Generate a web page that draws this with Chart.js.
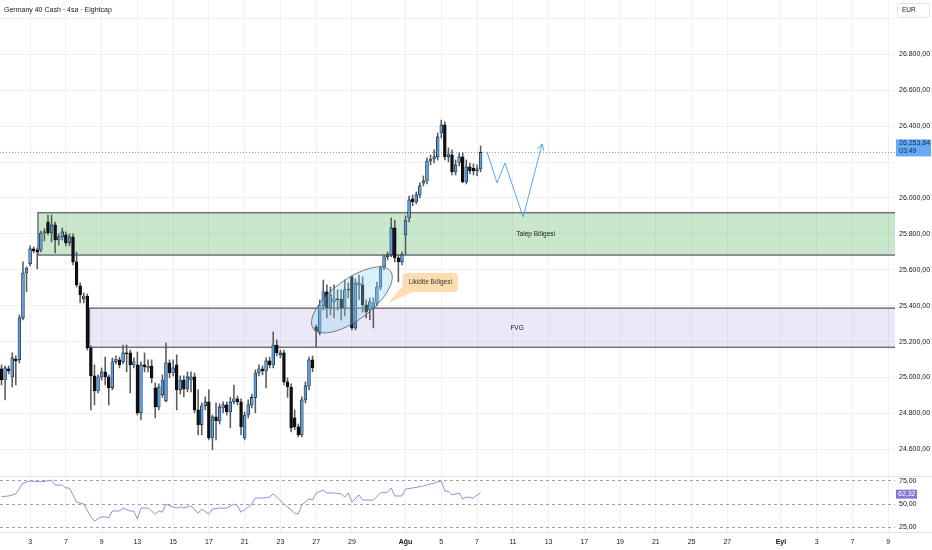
<!DOCTYPE html>
<html>
<head>
<meta charset="utf-8">
<script src="https://cdn.jsdelivr.net/npm/chart.js@4.4.1/dist/chart.umd.min.js"></script>
<style>
  html, body { margin: 0; padding: 0; background: #fff; }
  canvas { display: block; }
</style>
</head>
<body>
<canvas id="chart" width="932" height="550"></canvas>
<script>
// 4 saatlik mumlar (fiyatlar)
const openP = [25048,24986,25048,25003,25103,25098,25332,25582,25633,25716,25710,25710,25805,25866,25805,25850,25766,25783,25794,25750,
  25783,25644,25510,25438,25454,25165,25009,24925,25003,25031,25003,24942,25087,25098,25087,25137,25137,25070,25070,24803,
  25070,25053,25064,24942,24836,24903,24870,25081,25025,25070,24931,24986,24936,24986,25003,24819,24736,24842,24864,24663,
  24780,24758,24830,24847,24808,24864,24881,24864,24663,24791,24847,24889,25025,25048,25036,25092,25070,25181,25126,25137,
  24975,24947,24775,24725,24680,24875,24953,25098,25282,25254,25399,25477,25387,25421,25438,25438,25387,25493,25560,25276,
  25516,25516,25404,25376,25387,25415,25504,25616,25672,25683,25833,25666,25644,25794,25889,25995,25978,26017,26084,26095,
  26206,26217,26229,26362,26407,26229,26240,26145,26195,26229,26089,26173,26167,26151,26162];
const highP = [25070,25064,25064,25137,25120,25348,25644,25616,25733,25727,25722,25816,25828,25905,25905,25866,25800,25833,25811,25800,
  25800,25699,25527,25471,25465,25176,25070,25014,25053,25114,25014,25109,25120,25114,25181,25181,25153,25109,25142,25087,
  25137,25098,25098,24970,24964,25014,25192,25098,25098,25126,25009,25009,25031,25031,25025,24931,24858,24892,24931,24791,
  24858,24853,24864,24864,24889,24958,24897,24881,24808,24875,24908,25042,25070,25064,25109,25114,25254,25209,25153,25153,
  24998,24964,24819,24741,24892,24975,25114,25120,25293,25432,25543,25516,25504,25516,25488,25488,25543,25527,25566,25549,
  25571,25560,25432,25443,25443,25532,25621,25683,25699,25889,25877,25683,25699,25900,26011,26017,26034,26084,26123,26223,
  26240,26268,26362,26434,26424,26279,26268,26212,26251,26251,26212,26195,26190,26184,26290];
const lowP = [24958,24875,25020,24947,24958,25081,25321,25477,25621,25694,25605,25699,25761,25794,25755,25694,25738,25766,25733,25733,
  25627,25504,25415,25415,25153,24819,24847,24914,24986,24958,24847,24931,25076,25053,25076,25031,24914,25053,24791,24764,
  25031,25031,24970,24775,24819,24889,24864,24998,25009,24819,24908,24892,24920,24920,24803,24680,24680,24819,24652,24597,
  24652,24741,24803,24791,24719,24853,24847,24680,24652,24775,24830,24803,25009,25014,24942,25053,25053,25120,25109,24958,
  24889,24697,24708,24669,24669,24858,24931,25031,25170,25237,25376,25332,25348,25332,25376,25321,25343,25443,25265,25265,
  25432,25365,25332,25321,25276,25399,25488,25599,25655,25672,25644,25532,25627,25683,25866,25956,25967,26000,26067,26078,
  26184,26195,26212,26334,26212,26201,26128,26128,26178,26084,26078,26134,26128,26123,26145];
const closeP = [24986,25053,25036,25109,25092,25332,25582,25610,25716,25705,25699,25805,25811,25805,25850,25766,25783,25811,25750,25783,
  25644,25516,25460,25454,25165,25009,24925,25003,25031,25003,24942,25087,25103,25070,25137,25131,25070,25087,24803,25070,
  25059,25064,24998,24836,24947,24986,25081,25025,25053,24931,24986,24936,25003,25003,24819,24736,24842,24864,24663,24780,
  24758,24836,24847,24808,24864,24881,24864,24725,24791,24847,24889,25025,25048,25036,25092,25070,25181,25137,25137,24975,
  24947,24719,24725,24680,24875,24953,25098,25053,25259,25399,25477,25387,25460,25438,25432,25387,25488,25488,25276,25527,
  25527,25404,25365,25421,25415,25504,25610,25672,25683,25833,25666,25644,25683,25877,25989,25978,26017,26067,26095,26206,
  26217,26229,26340,26407,26229,26245,26145,26184,26229,26089,26173,26151,26151,26162,26253.84];

// RSI (14)
const rsiIdx = [0,2,4,6,8,11,14,15,17,18,19,21,23,25,26,28,29,30,31,33,34,36,37,38,39,41,43,44,45,46,47,49,50,51,53,55,56,58,59,61,
  63,65,66,67,69,70,71,73,75,76,77,79,81,82,83,84,86,87,88,90,91,93,95,96,97,98,100,101,104,106,108,109,110,112,113,115,118,120,121,123,
  124,125,126,128,129,130,132,133,134];
const rsiVal = [58,58.7,60.9,72.8,75,74,76,70.6,70.6,67.4,67.4,52,50,36,31.5,36,36,35,42.4,42.4,45.6,42.4,42.4,33.7,45.6,45.6,39,42.4,41,50,
  48,45.6,46.7,45.6,48,40,44.6,39,44.6,45.6,45.6,50,48,41,46.7,50,56.5,56.5,57.6,60.9,57.6,50,43.5,40,39,49,55.4,54.3,62,65,
  62,62,60.9,57.6,62,52,59.8,54.3,54.3,62,63,67.4,58.7,58.7,66.3,67.4,69.6,71.7,72.8,75,64,64,59.8,62,55.4,57.6,56.5,59.8,62.32];

// zaman ekseni
const timeIdx = [8,18,28,38,48,58,68,78,88,98,113,123,133,143,153,163,173,183,193,203,218,228,238,248];
const timeLbl = ['3','7','9','13','15','17','21','23','27','29','Ağu','5','7','11','13','17','19','21','25','27','Eyl','3','7','9'];
const priceTicks = [24600,24800,25000,25200,25400,25600,25800,26000,26200,26400,26600,26800,27000];
const rsiTicks = [25,50,75];

// çizimler
const zoneNames = ['Talep Bölgesi', 'FVG'];
const zoneStart = [10.2, 24.6];
const zoneHigh = [25918, 25386];
const zoneLow = [25682, 25168];
const zoneTextAt = [149.4, 144.2];
const ellipseCenter = [98, 25432];
const ellipseEnd = [108.8, 25593];
const calloutText = 'Likidite Bölgesi';
const calloutAt = [119.9, 25529];
const calloutTip = [108.1, 25415];
const arrowIdx = [135.8, 138.6, 140.8, 145.9, 151.2];
const arrowPrice = [26256, 26084, 26195, 25894, 26301];

const lastClose = closeP[closeP.length - 1];
const lastRsi = rsiVal[rsiVal.length - 1];
const countdown = '03:49';

const FONT = "'Liberation Sans', Arial, sans-serif";
const BULL = '#5b9ce0';
const BEAR = '#111111';

function fmt(v) {
  const parts = v.toFixed(2).split('.');
  return parts[0].replace(/\B(?=(\d{3})+(?!\d))/g, '.') + ',' + parts[1];
}

// eksen kenar boşluklarını sıfırla (paneller tam yüksekliği kullansın)
function noPad(s) {
  s.paddingTop = 0;
  s.paddingBottom = 0;
}

const bodies = openP.map((o, i) => ({ x: i, y: [o, closeP[i]] }));
const wicks = highP.map((h, i) => ({ x: i, y: [lowP[i], h] }));
const bodyColors = openP.map((o, i) => closeP[i] >= o ? BULL : BEAR);

const overlay = {
  id: 'overlay',
  beforeDatasetsDraw(chart) {
    const { ctx, chartArea: a, scales: { x, y } } = chart;
    ctx.save();
    ctx.beginPath();
    ctx.rect(a.left, y.top, a.right - a.left, y.bottom - y.top);
    ctx.clip();
    const fills = ['rgba(76,175,80,0.3)', 'rgba(149,117,205,0.17)'];
    zoneNames.forEach((name, i) => {
      const l = x.getPixelForValue(zoneStart[i]);
      const t = y.getPixelForValue(zoneHigh[i]);
      const b = y.getPixelForValue(zoneLow[i]);
      ctx.fillStyle = fills[i];
      ctx.fillRect(l, t, a.right + 5 - l, b - t);
      ctx.strokeStyle = '#6f727c';
      ctx.lineWidth = 1.5;
      ctx.strokeRect(l, t, a.right + 5 - l, b - t);
      ctx.fillStyle = '#131722';
      ctx.font = '6.5px ' + FONT;
      ctx.textAlign = 'center';
      ctx.textBaseline = 'middle';
      ctx.fillText(name, x.getPixelForValue(zoneTextAt[i]), (t + b) / 2);
    });
    // son fiyat çizgisi
    const py = y.getPixelForValue(lastClose);
    ctx.strokeStyle = '#5aa5ef';
    ctx.lineWidth = 1;
    ctx.setLineDash([1, 2]);
    ctx.beginPath();
    ctx.moveTo(a.left, py);
    ctx.lineTo(a.right, py);
    ctx.stroke();
    ctx.restore();
  },
  afterDatasetsDraw(chart) {
    const { ctx, scales: { x, y } } = chart;
    ctx.save();
    // elips
    const cx = x.getPixelForValue(ellipseCenter[0]), cy = y.getPixelForValue(ellipseCenter[1]);
    const ex = x.getPixelForValue(ellipseEnd[0]), ey = y.getPixelForValue(ellipseEnd[1]);
    const ra = Math.hypot(ex - cx, ey - cy);
    ctx.beginPath();
    ctx.ellipse(cx, cy, ra, ra * 0.42, Math.atan2(ey - cy, ex - cx), 0, Math.PI * 2);
    ctx.fillStyle = 'rgba(140,210,240,0.32)';
    ctx.fill();
    ctx.strokeStyle = '#4f6170';
    ctx.lineWidth = 0.8;
    ctx.stroke();

    // etiket balonu
    ctx.font = '6.5px ' + FONT;
    const tw = ctx.measureText(calloutText).width;
    const bx = x.getPixelForValue(calloutAt[0]), by = y.getPixelForValue(calloutAt[1]);
    const w = tw + 12, h = 19;
    const l = bx - w / 2, t = by - h / 2;
    const tx = x.getPixelForValue(calloutTip[0]), ty = y.getPixelForValue(calloutTip[1]);
    ctx.fillStyle = '#fcdcb2';
    ctx.beginPath();
    ctx.roundRect(l, t, w, h, 4);
    ctx.fill();
    ctx.beginPath();
    ctx.moveTo(l + 2, t + h - 8);
    ctx.lineTo(tx, ty);
    ctx.lineTo(l + 10, t + h);
    ctx.closePath();
    ctx.fill();
    ctx.fillStyle = '#3e3427';
    ctx.textAlign = 'center';
    ctx.textBaseline = 'middle';
    ctx.fillText(calloutText, bx, by);

    // ok ucu
    const n = arrowIdx.length;
    const x1 = x.getPixelForValue(arrowIdx[n - 1]), y1 = y.getPixelForValue(arrowPrice[n - 1]);
    const x0 = x.getPixelForValue(arrowIdx[n - 2]), y0 = y.getPixelForValue(arrowPrice[n - 2]);
    const ang = Math.atan2(y1 - y0, x1 - x0);
    ctx.strokeStyle = '#5aa5ef';
    ctx.lineWidth = 1;
    ctx.beginPath();
    ctx.moveTo(x1 + 7 * Math.cos(ang + Math.PI - 0.5), y1 + 7 * Math.sin(ang + Math.PI - 0.5));
    ctx.lineTo(x1, y1);
    ctx.lineTo(x1 + 7 * Math.cos(ang + Math.PI + 0.5), y1 + 7 * Math.sin(ang + Math.PI + 0.5));
    ctx.stroke();
    ctx.restore();
  },
  afterDraw(chart) {
    const { ctx, width, chartArea: a, scales: { y, rsi } } = chart;
    ctx.save();
    // panel ayırıcı
    ctx.strokeStyle = '#e0e3eb';
    ctx.lineWidth = 1;
    ctx.beginPath();
    ctx.moveTo(0, rsi.top + 0.5);
    ctx.lineTo(width, rsi.top + 0.5);
    ctx.moveTo(0, rsi.bottom + 0.5);
    ctx.lineTo(width, rsi.bottom + 0.5);
    ctx.stroke();

    // son fiyat etiketi
    const py = y.getPixelForValue(lastClose);
    ctx.fillStyle = '#66aaf4';
    ctx.fillRect(a.right + 1, py - 13, 35, 17);
    ctx.fillStyle = '#0e2a52';
    ctx.font = '7px ' + FONT;
    ctx.textAlign = 'left';
    ctx.textBaseline = 'middle';
    ctx.fillText(fmt(lastClose), a.right + 4, py - 9);
    ctx.fillText(countdown, a.right + 4, py - 1);

    // RSI etiketi
    const ry = rsi.getPixelForValue(lastRsi);
    ctx.fillStyle = '#8478d2';
    ctx.fillRect(a.right + 1, ry - 3, 21, 9);
    ctx.fillStyle = '#ffffff';
    ctx.fillText(fmt(lastRsi), a.right + 3, ry + 1.5);

    // başlık
    ctx.fillStyle = '#131722';
    ctx.font = '7px ' + FONT;
    ctx.fillText('Germany 40 Cash · 4sa · Eightcap', 4, 10);

    // para birimi kutusu
    ctx.strokeStyle = '#e0e3eb';
    ctx.beginPath();
    ctx.roundRect(897.5, 3.5, 32, 14, 3);
    ctx.stroke();
    ctx.fillStyle = '#131722';
    ctx.font = '6.5px ' + FONT;
    ctx.fillText('EUR', 902, 10.5);
    ctx.restore();
  }
};

new Chart(document.getElementById('chart'), {
  type: 'bar',
  data: {
    datasets: [
      {
        label: 'gövde',
        data: bodies,
        backgroundColor: bodyColors,
        borderColor: '#000',
        borderWidth: 0.6,
        borderSkipped: false,
        barThickness: 2.8,
        grouped: false,
        order: 1,
        yAxisID: 'y'
      },
      {
        label: 'fitil',
        data: wicks,
        backgroundColor: '#5a5a5a',
        barThickness: 0.9,
        grouped: false,
        order: 2,
        yAxisID: 'y'
      },
      {
        type: 'line',
        label: 'RSI',
        data: rsiIdx.map((v, i) => ({ x: v, y: rsiVal[i] })),
        borderColor: '#9d8ad8',
        borderWidth: 1,
        pointRadius: 0,
        tension: 0,
        order: 0,
        yAxisID: 'rsi'
      },
      {
        type: 'line',
        label: 'ok',
        data: arrowIdx.map((v, i) => ({ x: v, y: arrowPrice[i] })),
        borderColor: '#5aa5ef',
        borderWidth: 1,
        pointRadius: 0,
        tension: 0,
        order: 0,
        yAxisID: 'y'
      }
    ]
  },
  options: {
    responsive: false,
    animation: false,
    layout: { padding: 0 },
    plugins: { legend: { display: false }, tooltip: { enabled: false } },
    scales: {
      x: {
        type: 'linear',
        min: -0.42,
        max: 249.9,
        offset: false,
        grid: { color: '#eef0f4', offset: false, drawTicks: false },
        border: { display: false },
        afterBuildTicks: s => { s.ticks = timeIdx.map(v => ({ value: v })); },
        afterFit: s => { s.height = 18; s.paddingLeft = 0; s.paddingRight = 0; },
        ticks: {
          autoSkip: false,
          maxRotation: 0,
          padding: 6,
          color: '#131722',
          font: c => ({ family: FONT, size: 7, weight: (timeLbl[c.index] === 'Ağu' || timeLbl[c.index] === 'Eyl') ? 'bold' : 'normal' }),
          callback: (v, i) => timeLbl[i]
        }
      },
      y: {
        type: 'linear',
        position: 'right',
        stack: 'pane',
        stackWeight: 476,
        min: 24451,
        max: 27103,
        grid: { color: '#eef0f4', drawTicks: false },
        border: { display: false },
        afterBuildTicks: s => { s.ticks = priceTicks.map(v => ({ value: v })); },
        afterFit: s => { s.width = 37; noPad(s); },
        ticks: {
          padding: 4,
          color: '#131722',
          font: { family: FONT, size: 7 },
          callback: v => (v === 27000 || Math.abs(v - lastClose) < 80) ? '' : fmt(v)
        }
      },
      rsi: {
        type: 'linear',
        position: 'right',
        stack: 'pane',
        stackWeight: 56,
        min: 19.57,
        max: 80.43,
        grid: { color: '#9ea1aa', drawTicks: false },
        border: { display: false, dash: [3, 3] },
        afterBuildTicks: s => { s.ticks = rsiTicks.map(v => ({ value: v })); },
        afterFit: s => { s.width = 37; noPad(s); },
        ticks: {
          padding: 4,
          color: '#131722',
          font: { family: FONT, size: 7 },
          callback: v => fmt(v)
        }
      }
    }
  },
  plugins: [overlay]
});
</script>
</body>
</html>
